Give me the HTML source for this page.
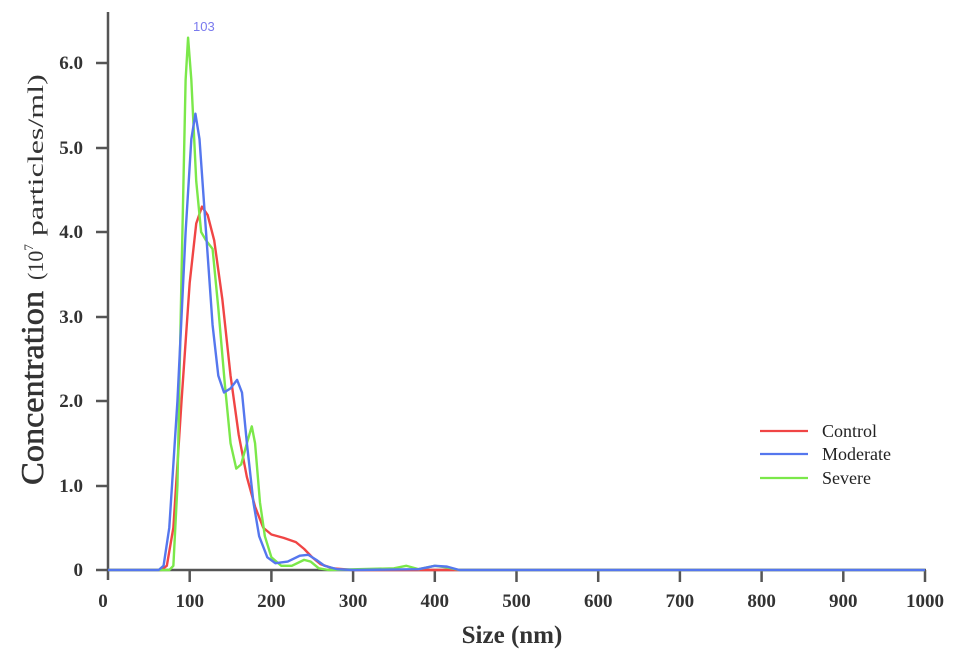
<!DOCTYPE html><html><head><style>body{margin:0;background:#fff}</style></head><body>
<svg width="969" height="664" xmlns="http://www.w3.org/2000/svg" font-family="Liberation Serif, serif">
<rect width="969" height="664" fill="#fff"/>
<g stroke="#555" stroke-width="2.5">
<line x1="108" y1="12" x2="108" y2="580"/>
<line x1="96" y1="570" x2="926" y2="570"/>
<line x1="96" y1="63" x2="108" y2="63"/><line x1="96" y1="148" x2="108" y2="148"/><line x1="96" y1="232" x2="108" y2="232"/><line x1="96" y1="317" x2="108" y2="317"/><line x1="96" y1="401" x2="108" y2="401"/><line x1="96" y1="486" x2="108" y2="486"/>
<line x1="189.7" y1="570" x2="189.7" y2="582"/><line x1="271.4" y1="570" x2="271.4" y2="582"/><line x1="353.1" y1="570" x2="353.1" y2="582"/><line x1="434.8" y1="570" x2="434.8" y2="582"/><line x1="516.5" y1="570" x2="516.5" y2="582"/><line x1="598.2" y1="570" x2="598.2" y2="582"/><line x1="679.9" y1="570" x2="679.9" y2="582"/><line x1="761.6" y1="570" x2="761.6" y2="582"/><line x1="843.3" y1="570" x2="843.3" y2="582"/><line x1="925" y1="570" x2="925" y2="582"/>
</g>
<g font-size="19" font-weight="bold" fill="#333" text-anchor="end">
<text x="83" y="69">6.0</text><text x="83" y="154">5.0</text><text x="83" y="238">4.0</text><text x="83" y="323">3.0</text><text x="83" y="407">2.0</text><text x="83" y="492">1.0</text><text x="83" y="576">0</text>
</g>
<g font-size="19" font-weight="bold" fill="#333" text-anchor="middle">
<text x="103" y="607">0</text><text x="189.7" y="607">100</text><text x="271.4" y="607">200</text><text x="353.1" y="607">300</text><text x="434.8" y="607">400</text><text x="516.5" y="607">500</text><text x="598.2" y="607">600</text><text x="679.9" y="607">700</text><text x="761.6" y="607">800</text><text x="843.3" y="607">900</text><text x="925" y="607">1000</text>
</g>
<text x="512" y="643" font-size="25" font-weight="bold" fill="#333" text-anchor="middle">Size (nm)</text>
<text transform="translate(43,485) rotate(-90)" fill="#333" font-size="32" stroke="#333" stroke-width="0.6" textLength="194" lengthAdjust="spacingAndGlyphs">Concentration</text>
<text transform="translate(43,280) rotate(-90)" fill="#333" font-size="22"><tspan>(10</tspan><tspan font-size="13" dy="-10">7</tspan><tspan dy="10" textLength="170" lengthAdjust="spacingAndGlyphs"> particles/ml)</tspan></text>
<text x="193" y="31" font-size="13" fill="#7a7aee" font-family="Liberation Sans, sans-serif">103</text>
<g transform="translate(108,570) scale(0.817,-84.5)" fill="none" stroke-width="2.4" stroke-linejoin="round">
<polyline vector-effect="non-scaling-stroke" stroke="#f04545" points="0,0 65,0 72,0.05 80,0.5 90,2 100,3.4 108,4.1 115,4.3 122,4.2 130,3.9 140,3.2 150,2.3 160,1.6 170,1.1 180,0.75 190,0.5 200,0.42 215,0.38 230,0.33 240,0.25 250,0.15 260,0.07 275,0.02 300,0 1000,0"/>
<polyline vector-effect="non-scaling-stroke" stroke="#7be84a" points="0,0 75,0 80,0.05 85,1 90,3.5 95,5.8 98,6.3 102,5.8 108,4.6 114,4.0 120,3.9 128,3.8 135,3.1 143,2.2 150,1.5 157,1.2 163,1.25 170,1.5 176,1.7 180,1.5 186,0.8 192,0.4 200,0.15 212,0.05 225,0.05 240,0.12 248,0.1 258,0.02 270,0 350,0.02 365,0.05 380,0.01 400,0.05 415,0.03 430,0 1000,0"/>
<polyline vector-effect="non-scaling-stroke" stroke="#5577ee" points="0,0 62,0 68,0.05 75,0.5 85,2 95,4 102,5.1 107,5.4 112,5.1 120,4 128,2.9 135,2.3 142,2.1 150,2.15 158,2.25 164,2.1 170,1.5 178,0.8 185,0.4 195,0.15 205,0.08 220,0.1 235,0.17 245,0.18 255,0.12 265,0.05 280,0.01 300,0 380,0.01 400,0.05 415,0.04 430,0 1000,0"/>
</g>
<g stroke-width="2.2">
<line x1="760" y1="431" x2="808" y2="431" stroke="#f04545"/>
<line x1="760" y1="454" x2="808" y2="454" stroke="#5577ee"/>
<line x1="760" y1="478" x2="808" y2="478" stroke="#7be84a"/>
</g>
<g font-size="18" fill="#222">
<text x="822" y="437">Control</text><text x="822" y="460">Moderate</text><text x="822" y="484">Severe</text>
</g>
</svg>
</body></html>
